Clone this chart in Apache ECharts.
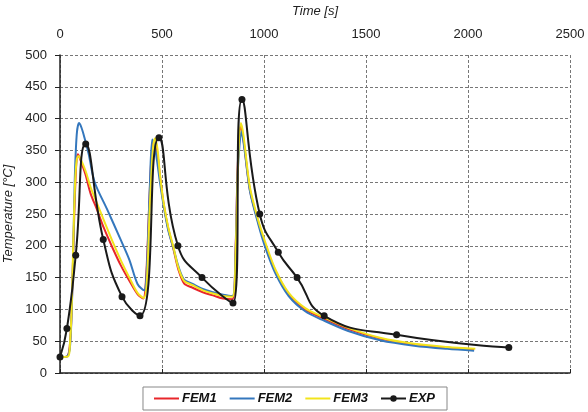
<!DOCTYPE html>
<html>
<head>
<meta charset="utf-8">
<title>Temperature vs time</title>
<script src="https://cdn.jsdelivr.net/npm/echarts@6.0.0/dist/echarts.min.js"></script>
<style>
  html, body { margin: 0; padding: 0; background: #fff; }
  #chart { width: 588px; height: 412px; }
</style>
</head>
<body>
<div id="chart"></div>
<script>
// 数据：时间 [s] / 温度 [°C]
const fem1Time = [0, 35, 50, 60, 70, 80, 88, 100, 125, 150, 180, 215, 260, 300, 340, 380, 408, 422, 438, 450, 460, 475, 490, 507, 530, 556, 580, 608, 650, 700, 750, 800, 845, 860, 872, 886, 900, 931, 972, 1008, 1057, 1121, 1202, 1283, 1413, 1574, 1736, 1898, 2030];
const fem1Temp = [25, 26, 50, 130, 250, 330, 344, 335, 312, 282, 258, 228, 195, 168, 145, 124, 117, 150, 270, 348, 365, 350, 310, 268, 228, 195, 163, 141, 134, 127, 122, 117, 116, 190, 330, 387, 365, 288, 237, 200, 160, 124, 100, 87, 69, 54, 45, 40, 37];

const fem2Time = [0, 35, 50, 62, 72, 82, 93, 105, 120, 140, 170, 230, 294, 340, 380, 412, 425, 440, 452, 462, 475, 490, 507, 530, 556, 580, 608, 650, 700, 750, 800, 845, 860, 872, 890, 905, 931, 972, 1008, 1057, 1121, 1202, 1283, 1413, 1574, 1736, 1898, 2030];
const fem2Temp = [25, 26, 45, 150, 300, 375, 393, 386, 370, 345, 300, 258, 212, 178, 140, 130, 160, 290, 367, 360, 335, 300, 265, 225, 196, 168, 147, 140, 132, 127, 123, 121, 185, 320, 380, 350, 286, 234, 196, 156, 121, 97, 84, 66, 51, 43, 38, 35];

const fem3Time = [0, 40, 49, 57, 65, 74, 82, 90, 100, 125, 150, 180, 215, 260, 300, 340, 380, 410, 425, 440, 455, 466, 478, 490, 507, 530, 556, 580, 608, 650, 700, 750, 800, 845, 862, 874, 887, 900, 931, 972, 1008, 1057, 1121, 1202, 1283, 1413, 1574, 1736, 1898, 2036];
const fem3Temp = [25, 26, 47, 100, 205, 299, 336, 341, 337, 318, 292, 268, 240, 205, 176, 150, 126, 118, 140, 260, 350, 369, 352, 312, 270, 230, 198, 166, 145, 138, 130, 125, 121, 120, 200, 340, 393, 372, 292, 240, 204, 162, 126, 102, 89, 71, 55, 46, 41, 38];

const expTime = [0, 34, 77, 126, 212, 304, 392, 485, 578, 696, 848, 892, 979, 1070, 1162, 1295, 1650, 2200];
const expTemp = [25, 70, 185, 360, 210, 120, 90, 370, 200, 150, 110, 430, 250, 190, 150, 90, 60, 40];

const xTicks = { min: 0, max: 2500, interval: 500 };
const yTicks = { min: 0, max: 500, interval: 50 };

function zip(xs, ys) {
    return xs.map((x, i) => [x, ys[i]]);
}

const FONT = 'Liberation Sans';
const chart = echarts.init(document.getElementById('chart'));

// FEM 曲线：无标记点，图例里也只画线（点的颜色设为透明）
const femLine = (name, color, t, v) => ({
    name: name,
    type: 'line',
    data: zip(t, v),
    symbol: 'none',
    smooth: 0.3,
    lineStyle: { color: color, width: 2 },
    itemStyle: { color: 'rgba(0,0,0,0)' },
    z: 2
});

chart.setOption({
    animation: false,
    backgroundColor: '#fff',
    grid: { left: 60, right: 18, top: 55, bottom: 39, containLabel: false, outerBoundsMode: 'none' },
    xAxis: {
        type: 'value',
        position: 'top',
        min: xTicks.min,
        max: xTicks.max,
        interval: xTicks.interval,
        name: 'Time [s]',
        nameLocation: 'middle',
        nameGap: 37,
        nameTextStyle: { fontFamily: FONT, fontSize: 13, fontStyle: 'italic', color: '#222' },
        axisLine: { show: true, lineStyle: { color: '#222', width: 1.5 } },
        axisTick: { show: true, length: 4, lineStyle: { color: '#222' } },
        axisLabel: { fontFamily: FONT, fontSize: 13, color: '#222', margin: 14, formatter: v => String(v) },
        splitLine: { show: true, lineStyle: { color: '#777', type: [3, 2], width: 1 } }
    },
    yAxis: {
        type: 'value',
        min: yTicks.min,
        max: yTicks.max,
        interval: yTicks.interval,
        name: 'Temperature [°C]',
        nameLocation: 'middle',
        nameGap: 36,
        nameRotate: 90,
        nameTextStyle: { fontFamily: FONT, fontSize: 13, fontStyle: 'italic', color: '#222' },
        axisLine: { show: true, lineStyle: { color: '#222', width: 1.5 } },
        axisTick: { show: true, length: 5, lineStyle: { color: '#222' } },
        axisLabel: { fontFamily: FONT, fontSize: 13, color: '#222', margin: 13, formatter: v => String(v) },
        splitLine: { show: true, lineStyle: { color: '#777', type: [3, 2], width: 1 } }
    },
    legend: {
        bottom: 2,
        left: 'center',
        data: ['FEM1', 'FEM2', 'FEM3', 'EXP'],
        borderColor: '#888',
        borderWidth: 1,
        borderRadius: 0,
        padding: [5, 12, 5, 10],
        itemWidth: 25,
        itemHeight: 8,
        itemGap: 12,
        textStyle: { fontFamily: FONT, fontSize: 13, fontWeight: 'bold', fontStyle: 'italic', color: '#111', padding: [0, 0, 0, -2] }
    },
    series: [
        femLine('FEM1', '#e8262b', fem1Time, fem1Temp),
        femLine('FEM2', '#3477bd', fem2Time, fem2Temp),
        femLine('FEM3', '#f2e41c', fem3Time, fem3Temp),
        {
            name: 'EXP',
            type: 'line',
            data: zip(expTime, expTemp),
            smooth: 0.5,
            symbol: 'circle',
            symbolSize: 7,
            lineStyle: { color: '#1a1a1a', width: 2 },
            itemStyle: { color: '#1a1a1a' },
            z: 3
        }
    ]
});
</script>
</body>
</html>
